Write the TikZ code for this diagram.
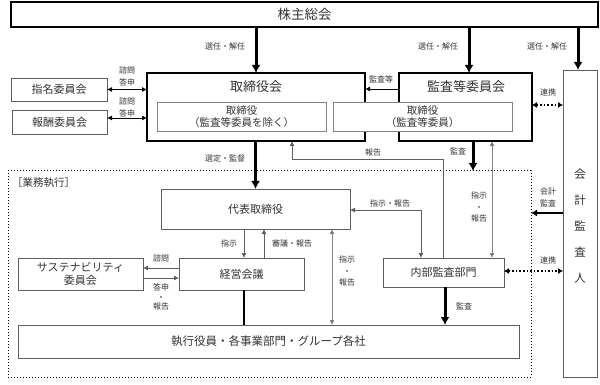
\documentclass[tikz,border=0pt]{standalone}
\usepackage{fontspec}
\setmainfont{Noto Sans CJK JP}
\usetikzlibrary{arrows.meta,calc}
\definecolor{ln}{RGB}{95,95,95}
\definecolor{lg}{RGB}{130,130,130}
\definecolor{tx}{RGB}{50,50,50}
\tikzset{
  bx/.style={draw=ln,line width=0.9pt,inner sep=0pt,outer sep=0pt,align=center,text=tx,font=\fontsize{11}{13}\selectfont},
  thickbx/.style={draw=black,line width=1.8pt,inner sep=0pt,outer sep=0pt},
  inbx/.style={draw=lg,line width=0.9pt,fill=white,inner sep=0pt,outer sep=0pt,align=center,text=tx,font=\fontsize{10.5}{12.5}\selectfont},
  lbl/.style={text=tx,font=\fontsize{8}{9}\selectfont,inner sep=0pt,align=center},
  thinarr/.style={draw=ln,line width=0.8pt,-{Latex[length=5pt,width=5pt]}},
  thinarrb/.style={draw=ln,line width=0.8pt,{Latex[length=5pt,width=5pt]}-{Latex[length=5pt,width=5pt]}},
  grarrb/.style={draw=lg,line width=0.8pt,{Latex[length=5pt,width=5pt,fill=ln]}-{Latex[length=5pt,width=5pt,fill=ln]}},
  thickarr/.style={draw=black,line width=3pt,-{Latex[length=8pt,width=9pt]}},
  midarr/.style={draw=black,line width=2pt,-{Latex[length=6pt,width=7pt]}},
  dotarr/.style={draw=black,line width=1.6pt,dotted,{Latex[length=5pt,width=6pt]}-{Latex[length=5pt,width=6pt]}},
}
\begin{document}
\begin{tikzpicture}[x=1pt,y=-1pt]
\useasboundingbox (0,0) rectangle (600,385);
% top
\node[bx,draw=black,line width=1.3pt,minimum width=587pt,minimum height=25pt,font=\fontsize{13.5}{15}\selectfont] (kab) at (304.5,14.5) {株主総会};
% board
\node[thickbx,minimum width=218pt,minimum height=68pt] (tori) at (256,107) {};
\node[lbl,font=\fontsize{13}{15}\selectfont] (toriT) at (256,87) {取締役会};
\node[thickbx,minimum width=133pt,minimum height=68pt] (kansa) at (465.5,107) {};
\node[lbl,font=\fontsize{13}{15}\selectfont] (kansaT) at (466,87) {監査等委員会};
\node[inbx,minimum width=169pt,minimum height=29pt] (toriin) at (241.5,116.5) {取締役\\（監査等委員を除く）};
\node[inbx,minimum width=179pt,minimum height=29pt] (kansain) at (422.5,116.5) {取締役\\（監査等委員）};
% committees
\node[bx,minimum width=96pt,minimum height=23pt] (shimei) at (59,89.5) {指名委員会};
\node[bx,minimum width=95pt,minimum height=24pt] (hoshu) at (59.5,122) {報酬委員会};
% auditor
\node[bx,draw=ln,minimum width=34pt,minimum height=307pt] (kaikei) at (580,223.5) {};
\node[lbl,font=\fontsize{11.5}{26}\selectfont] (kaikeiT) at (580,226) {会\\計\\監\\査\\人};
% execution area
\node[draw=black,line width=1pt,dotted,minimum width=523pt,minimum height=206pt,inner sep=0pt,outer sep=0pt] (gyomu) at (269.5,274) {};
\node[lbl,anchor=west,font=\fontsize{10.5}{12}\selectfont] (gyomuT) at (12,183) {［業務執行］};
\node[bx,minimum width=189pt,minimum height=40pt] (daihyo) at (255.5,209) {代表取締役};
\node[bx,minimum width=125pt,minimum height=32pt] (keiei) at (241.5,274) {経営会議};
\node[bx,minimum width=125pt,minimum height=32pt] (sus) at (80.5,274) {サステナビリティ\\委員会};
\node[bx,minimum width=121pt,minimum height=29pt] (naibu) at (443.5,272.5) {内部監査部門};
\node[bx,minimum width=501pt,minimum height=33pt,font=\fontsize{11.5}{13}\selectfont] (shikko) at (268.5,341.5) {執行役員・各事業部門・グループ各社};
% helper coordinates
\coordinate (rep) at (292,159);
\coordinate (c492) at (492,0);
\coordinate (c332) at (332,0);
\coordinate (c244) at (244,0);
\coordinate (c264) at (264,0);
\coordinate (c421) at (421,0);
\coordinate (y213) at (0,213);
\coordinate (y271) at (0,271);
% shareholders arrows
\draw[thickarr] (kab.south -| tori) -- (tori.north);
\draw[thickarr] ([xshift=3.5pt]kab.south -| kansa) -- ([xshift=3.5pt]kansa.north);
\draw[thickarr] ([xshift=-2pt]kab.south -| kaikei) -- ([xshift=-2pt]kaikei.north);
\node[lbl] (l1) at (225,46) {選任・解任};
\node[lbl] (l2) at (438,46) {選任・解任};
\node[lbl] (l3) at (547,46) {選任・解任};
% 監査等
\draw[thinarr,draw=black] ([yshift=-16pt]kansa.north west) -- ([yshift=-16pt]tori.north east);
\node[lbl] (l4) at (381,79) {監査等};
% 連携 top
\draw[dotarr] ([yshift=2pt]kansa.east) -- ([yshift=2pt]kansa.east -| kaikei.west);
\node[lbl] (l5) at (548,92) {連携};
% committees arrows
\draw[thinarrb,draw=black] (shimei.east) -- (shimei.east -| tori.west);
\draw[thinarrb,draw=black] ([yshift=4pt]hoshu.east) -- ([yshift=4pt]hoshu.east -| tori.west);
\node[lbl] (l6) at (127,70) {諮問};
\node[lbl] (l7) at (127,82) {答申};
\node[lbl] (l8) at (127,101) {諮問};
\node[lbl] (l9) at (127,113) {答申};
% 選定・監督
\draw[thickarr] (tori.south -| daihyo) -- (daihyo.north);
\node[lbl] (l10) at (225,158) {選定・監督};
% 監査 from committee
\draw[thickarr] ([xshift=7.5pt]kansa.south) -- ([xshift=7.5pt]kansa.south |- gyomu.north);
\node[lbl] (l11) at (458,151) {監査};
% 報告
\draw[thinarr] (naibu.north) |- (rep) -- (rep |- tori.south);
\node[lbl] (l12) at (373,152) {報告};
% 指示・報告 committee <-> internal audit
\draw[grarrb] (kansa.south -| c492) -- (naibu.north -| c492);
\node[lbl,font=\fontsize{8}{11.5}\selectfont] (l13) at (479,207) {指示\\・\\報告};
% 会計監査
\draw[midarr] (kaikei.west |- y213) -- (gyomu.east |- y213);
\node[lbl,font=\fontsize{8}{12}\selectfont] (l14) at (548,197) {会計\\監査};
% 連携 bottom
\draw[dotarr] (naibu.east |- y271) -- (kaikei.west |- y271);
\node[lbl] (l15) at (548,260) {連携};
% 内部監査 -> 執行
\draw[thickarr] ([xshift=1.5pt]naibu.south) -- ([xshift=1.5pt]naibu.south |- shikko.north);
\node[lbl] (l16) at (464,306) {監査};
% 代表取締役 <-> 内部監査部門
\draw[thinarrb] ([yshift=-1pt]daihyo.east) -| (naibu.north -| c421);
\node[lbl] (l17) at (390,203) {指示・報告};
% 代表取締役 <-> 執行役員
\draw[grarrb] (daihyo.south -| c332) -- (shikko.north -| c332);
\node[lbl,font=\fontsize{8}{11.5}\selectfont] (l18) at (347,271) {指示\\・\\報告};
% 代表取締役 <-> 経営会議
\draw[thinarr] (daihyo.south -| c244) -- (keiei.north -| c244);
\draw[thinarr] (keiei.north -| c264) -- (daihyo.south -| c264);
\node[lbl] (l19) at (229,243) {指示};
\node[lbl] (l20) at (292,243) {審議・報告};
% 経営会議 <-> サステナ
\draw[thinarr] ([yshift=6pt]keiei.west) -- ([yshift=6pt]sus.east);
\draw[thinarr] ([yshift=-4pt]sus.east) -- ([yshift=-4pt]keiei.west);
\node[lbl] (l21) at (161,258) {諮問};
\node[lbl,font=\fontsize{8}{9.5}\selectfont] (l22) at (161,297) {答申\\・\\報告};
% 経営会議 - 執行
\draw[black,line width=2pt] (keiei.south -| c244) -- (shikko.north -| c244);
\end{tikzpicture}
\end{document}
